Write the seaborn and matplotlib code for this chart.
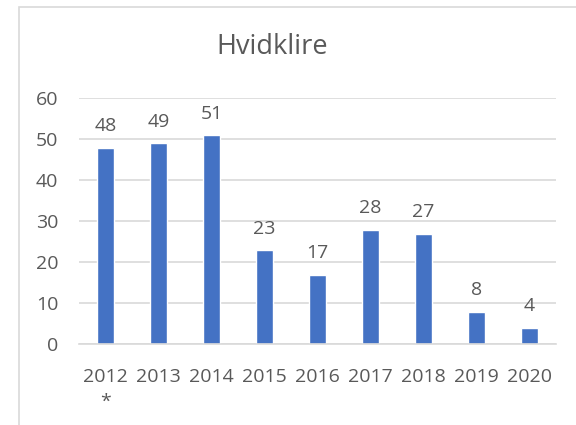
import matplotlib
matplotlib.use("Agg")
import matplotlib.pyplot as plt
import seaborn as sns
import pandas as pd
from matplotlib.patches import Rectangle

# data
years = ["2012\n*", "2013", "2014", "2015", "2016", "2017", "2018", "2019", "2020"]
counts = [48, 49, 51, 23, 17, 28, 27, 8, 4]
y_ticks = [0, 10, 20, 30, 40, 50, 60]

df = pd.DataFrame({"year": years, "count": counts})

sns.set_style("white")
plt.rcParams['font.family'] = ['Open Sans', 'DejaVu Sans']

text_col = "#595959"
grid_col = "#D9D9D9"
bar_col = "#4472C4"

fig = plt.figure(figsize=(5.76, 4.25), dpi=100)

# chart border like an office chart frame
fig.patches.append(Rectangle((18.5 / 576, -0.2), 1.2, 1.2 - 6.5 / 425,
                             transform=fig.transFigure, fill=False,
                             edgecolor=grid_col, linewidth=1.2))

ax = fig.add_axes([79 / 576, 1 - 344.3 / 425, (556 - 79) / 576, (344.3 - 98.3) / 425])

sns.barplot(data=df, x="year", y="count", color=bar_col, width=0.33,
            saturation=1, ax=ax)

ax.set_ylim(0, 60)
ax.set_xlim(-0.5, 8.5)
ax.set_yticks(y_ticks)
ax.yaxis.grid(True, color=grid_col, linewidth=1.2)
ax.set_axisbelow(True)
for s in ["top", "right", "left"]:
    ax.spines[s].set_visible(False)
ax.spines["bottom"].set_color(grid_col)
ax.spines["bottom"].set_linewidth(1.2)

ax.tick_params(axis="both", length=0, labelsize=14, labelcolor=text_col)
ax.tick_params(axis="y", pad=15)
ax.tick_params(axis="x", pad=17)
for lbl in ax.get_xticklabels():
    lbl.set_linespacing(1.5)
    lbl.set_verticalalignment("top")

ax.set_xlabel("")
ax.set_ylabel("")

# value labels
for i, v in enumerate(counts):
    ax.annotate(str(v), (i, v), xytext=(0, 9), textcoords="offset points",
                ha="center", va="bottom", fontsize=14, color=text_col)

fig.text(272.5 / 576, 1 - 47 / 425, "Hvidklire", ha="center", va="center",
         fontsize=19.5, color=text_col)

fig.savefig("out.png", dpi=100)
